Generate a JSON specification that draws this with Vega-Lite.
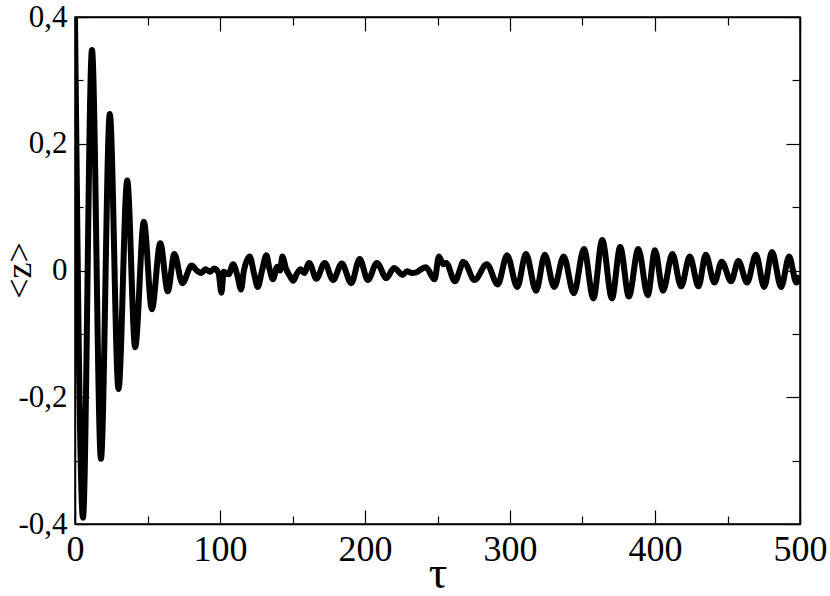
{
  "$schema": "https://vega.github.io/schema/vega-lite/v6.json",
  "width": 725,
  "height": 507,
  "autosize": {"type": "none"},
  "padding": {"left": 75, "top": 17, "right": 29, "bottom": 72},
  "background": "white",
  "config": {
    "view": {"stroke": "black", "strokeWidth": 1.5},
    "font": "Liberation Serif",
    "axis": {
      "labelFont": "Liberation Serif",
      "titleFont": "Liberation Serif",
      "labelColor": "black",
      "titleColor": "black",
      "domainColor": "black",
      "domainWidth": 1.5,
      "tickColor": "black",
      "tickWidth": 1.2,
      "grid": false,
      "titleFontWeight": "normal"
    }
  },
  "data": {
    "values": [
      {"t": 0, "z": 0.40},
      {"t": 5.5, "z": -0.39},
      {"t": 11.7, "z": 0.348},
      {"t": 17.9, "z": -0.297},
      {"t": 24, "z": 0.247},
      {"t": 30, "z": -0.187},
      {"t": 36, "z": 0.142},
      {"t": 41.5, "z": -0.121},
      {"t": 47.5, "z": 0.077},
      {"t": 53, "z": -0.061},
      {"t": 58.8, "z": 0.043},
      {"t": 64, "z": -0.033},
      {"t": 68.5, "z": 0.026},
      {"t": 74, "z": -0.02},
      {"t": 80.5, "z": 0.008},
      {"t": 84, "z": 0.0},
      {"t": 87, "z": -0.004},
      {"t": 90, "z": 0.002},
      {"t": 93, "z": -0.002},
      {"t": 96, "z": 0.003},
      {"t": 99, "z": -0.004},
      {"t": 101, "z": -0.035},
      {"t": 102.5, "z": -0.002},
      {"t": 106, "z": -0.006},
      {"t": 109, "z": 0.01},
      {"t": 112, "z": -0.008},
      {"t": 114.5, "z": -0.03},
      {"t": 116.5, "z": 0.0},
      {"t": 120.5, "z": 0.022},
      {"t": 123.5, "z": -0.005},
      {"t": 126, "z": -0.026},
      {"t": 129, "z": 0.0},
      {"t": 132, "z": 0.024},
      {"t": 134, "z": 0.004},
      {"t": 136.5, "z": -0.014},
      {"t": 139.5, "z": 0.006},
      {"t": 141.5, "z": 0.0},
      {"t": 143, "z": 0.022},
      {"t": 145.5, "z": 0.003},
      {"t": 148, "z": -0.008},
      {"t": 150.5, "z": -0.016},
      {"t": 153, "z": -0.005},
      {"t": 155.5, "z": 0.002},
      {"t": 158, "z": -0.004},
      {"t": 161.5, "z": 0.012},
      {"t": 166.5, "z": -0.013},
      {"t": 172.2, "z": 0.012},
      {"t": 178, "z": -0.015},
      {"t": 184, "z": 0.011},
      {"t": 190.5, "z": -0.02},
      {"t": 196.3, "z": 0.018},
      {"t": 202, "z": -0.015},
      {"t": 208.2, "z": 0.012},
      {"t": 214.7, "z": -0.012},
      {"t": 220, "z": 0.004},
      {"t": 226, "z": -0.007},
      {"t": 229, "z": -0.001},
      {"t": 232, "z": -0.004},
      {"t": 235.5, "z": -0.003},
      {"t": 238, "z": 0.001},
      {"t": 242, "z": 0.005},
      {"t": 248, "z": -0.014},
      {"t": 251, "z": 0.022},
      {"t": 254, "z": 0.01},
      {"t": 256, "z": 0.012},
      {"t": 262, "z": -0.017},
      {"t": 266, "z": 0.005},
      {"t": 267.5, "z": 0.014},
      {"t": 269, "z": 0.012},
      {"t": 275.5, "z": -0.015},
      {"t": 284, "z": 0.01},
      {"t": 291.5, "z": -0.022},
      {"t": 298, "z": 0.024},
      {"t": 305, "z": -0.026},
      {"t": 311, "z": 0.026},
      {"t": 318, "z": -0.032},
      {"t": 324, "z": 0.025},
      {"t": 330.5, "z": -0.026},
      {"t": 337, "z": 0.022},
      {"t": 344, "z": -0.036},
      {"t": 351, "z": 0.034},
      {"t": 357.5, "z": -0.044},
      {"t": 363.6, "z": 0.048},
      {"t": 370.3, "z": -0.044},
      {"t": 376, "z": 0.037},
      {"t": 382, "z": -0.041},
      {"t": 388.5, "z": 0.034},
      {"t": 395, "z": -0.039},
      {"t": 400, "z": 0.032},
      {"t": 405.5, "z": -0.032},
      {"t": 412, "z": 0.026},
      {"t": 418, "z": -0.025},
      {"t": 424, "z": 0.022},
      {"t": 430, "z": -0.025},
      {"t": 435, "z": 0.025},
      {"t": 441, "z": -0.019},
      {"t": 446, "z": 0.014},
      {"t": 452.5, "z": -0.017},
      {"t": 457.5, "z": 0.015},
      {"t": 463.5, "z": -0.019},
      {"t": 469.6, "z": 0.025},
      {"t": 475.3, "z": -0.026},
      {"t": 480.7, "z": 0.029},
      {"t": 487, "z": -0.026},
      {"t": 492.5, "z": 0.022},
      {"t": 497.5, "z": -0.019},
      {"t": 500, "z": -0.008}
    ]
  },
  "resolve": {"axis": {"x": "independent", "y": "independent"}},
  "layer": [
    {
      "mark": {"type": "line", "color": "black", "strokeWidth": 6, "interpolate": "monotone", "clip": true},
      "encoding": {
        "x": {
          "field": "t", "type": "quantitative",
          "scale": {"domain": [0, 500], "nice": false, "zero": false},
          "axis": {
            "orient": "bottom",
            "values": [0, 50, 100, 150, 200, 250, 300, 350, 400, 450, 500],
            "labelExpr": "datum.value % 100 == 0 ? datum.label : ''",
            "tickSize": {"condition": {"test": "datum.value % 100 == 0", "value": -14}, "value": -8},
            "labelPadding": 22,
            "labelFont": "Liberation Serif",
            "labelFontSize": 36,
            "labelFlush": false,
            "labelOverlap": false,
            "title": "τ",
            "titleFont": "Liberation Serif",
            "titleFontSize": 46,
            "titleY": 63,
            "titleBaseline": "alphabetic"
          }
        },
        "y": {
          "field": "z", "type": "quantitative",
          "scale": {"domain": [-0.4, 0.4], "nice": false, "zero": false},
          "axis": {
            "orient": "left",
            "values": [-0.4, -0.3, -0.2, -0.1, 0, 0.1, 0.2, 0.3, 0.4],
            "labelExpr": "abs(round(datum.value*10)) % 2 == 1 ? '' : (datum.value == 0 ? '0' : (datum.value < 0 ? '-' : '') + '0,' + abs(round(datum.value*10)))",
            "tickSize": {"condition": {"test": "abs(round(datum.value*10)) % 2 == 0", "value": -14}, "value": -8},
            "labelPadding": 22,
            "labelFont": "Liberation Serif",
            "labelFontSize": 31,
            "labelFlush": false,
            "labelOverlap": false,
            "title": "<z>",
            "titleFont": "Liberation Serif",
            "titleFontSize": 36,
            "titleAngle": -90,
            "titleX": -45,
            "titleY": 253,
            "titleAlign": "center",
            "titleBaseline": "alphabetic"
          }
        }
      }
    },
    {
      "data": {"values": [{"t": 0, "z": 0}]},
      "mark": {"type": "point", "opacity": 0},
      "encoding": {
        "x": {
          "field": "t", "type": "quantitative",
          "axis": {
            "orient": "top",
            "values": [0, 50, 100, 150, 200, 250, 300, 350, 400, 450, 500],
            "labels": false,
            "title": null,
            "tickSize": {"condition": {"test": "datum.value % 100 == 0", "value": -14}, "value": -8}
          }
        },
        "y": {
          "field": "z", "type": "quantitative",
          "axis": {
            "orient": "right",
            "values": [-0.4, -0.3, -0.2, -0.1, 0, 0.1, 0.2, 0.3, 0.4],
            "labels": false,
            "title": null,
            "tickSize": {"condition": {"test": "abs(round(datum.value*10)) % 2 == 0", "value": -14}, "value": -8}
          }
        }
      }
    }
  ]
}
